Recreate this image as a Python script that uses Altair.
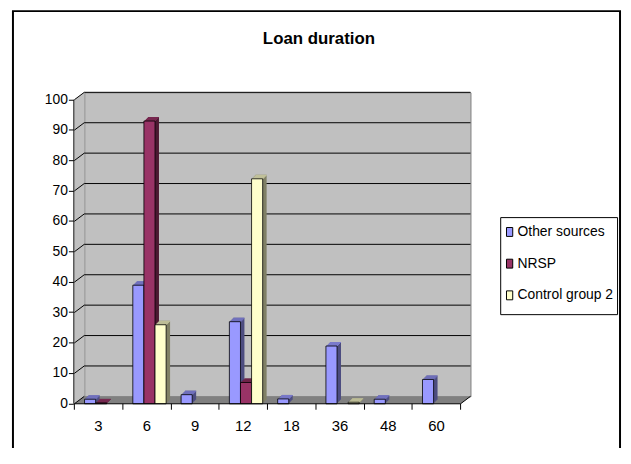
import altair as alt
import pandas as pd

# ---------------- data ----------------
durations = ["3", "6", "9", "12", "18", "36", "48", "60"]
series = ["Other sources", "NRSP", "Control group 2"]
other_sources = [1.5, 39, 3, 27, 1.6, 19, 1.5, 8]
nrsp = [0.3, 93, None, 7, None, None, None, None]
control_group_2 = [None, 26, None, 74, None, 0.5, None, None]
y_ticks = [0, 10, 20, 30, 40, 50, 60, 70, 80, 90, 100]
grid_values = [10, 20, 30, 40, 50, 60, 70, 80, 90, 100]
chart_title = "Loan duration"

front_colors = ["#9999FF", "#993366", "#FFFFCC"]
top_colors = ["#7A7ACC", "#7A2952", "#CCCCA3"]
side_colors = ["#4D4D80", "#4D1A33", "#808066"]

rows = []
for name, vals in zip(series, [other_sources, nrsp, control_group_2]):
    for d, v in zip(durations, vals):
        if v is not None:
            rows.append({"Duration": d, "Series": name, "Value": v})
df = pd.DataFrame(rows)
grid_df = pd.DataFrame({"v": grid_values})
side_df = pd.DataFrame({"v": y_ticks})
one = pd.DataFrame({"a": [0]})

# ---------------- geometry / style ----------------
W, H = 390, 307          # back wall (plot area)
DX, DY = 10, 7.5         # 3-D shift of the front plane
DEPTH = 4                # bar depth in px
FONT = "Liberation Sans"

yscale = alt.Scale(domain=[0, 100], range=[H + DY, DY], nice=False, zero=True)
y_axis = alt.Axis(values=y_ticks, offset=DX + 0.5, translate=0, grid=False,
                  domainColor="black", tickColor="black", tickSize=5,
                  labelFontSize=14, labelFont=FONT, labelColor="black",
                  labelPadding=1, title=None, zindex=1)
x_axis = alt.Axis(offset=DY, translate=0, tickBand="extent", labelAngle=0,
                  grid=False, domainColor="black", tickColor="black", tickSize=6,
                  labelFontSize=15, labelFont=FONT, labelColor="black",
                  labelPadding=9.5, title=None, zindex=1)


def xenc(k, axis=None):
    return alt.X("Duration:N", sort=durations,
                 scale=alt.Scale(domain=durations, range=[-DX + k, W - DX + k],
                                 paddingInner=0, paddingOuter=0),
                 axis=axis)


xoff = alt.XOffset("Series:N", sort=series,
                   scale=alt.Scale(domain=series, paddingInner=0,
                                   paddingOuter=0.675, align=0.68))


def poly_path(corners, cx, cy, half):
    pts = [f"{(x - cx) / half:.5f},{(y - cy) / half:.5f}" for x, y in corners]
    return "M" + "L".join(pts) + "Z"


def polygon(corners, color):
    xs = [c[0] for c in corners]
    ys = [c[1] for c in corners]
    cx = (min(xs) + max(xs)) / 2
    cy = (min(ys) + max(ys)) / 2
    half = max(max(xs) - min(xs), max(ys) - min(ys)) / 2 + 1
    return alt.Chart(one).mark_point(
        shape=poly_path(corners, cx, cy, half), size=(2 * half) ** 2,
        filled=True, fill=color, opacity=1, strokeWidth=0
    ).encode(x=alt.value(cx), y=alt.value(cy))


border = alt.Chart(one).mark_rect(fillOpacity=0, stroke="black", strokeWidth=2).encode(
    x=alt.value(-72), x2=alt.value(541), y=alt.value(-82), y2=alt.value(365))
legend_box = alt.Chart(one).mark_rect(fill="white", stroke="black", strokeWidth=1).encode(
    x=alt.value(420.5), x2=alt.value(538.5), y=alt.value(126.5), y2=alt.value(224.5))
title_text = alt.Chart(one).mark_text(
    font=FONT, fontSize=17, fontWeight="bold", color="black",
    align="center", baseline="alphabetic"
).encode(x=alt.value(237), y=alt.value(-49.3), text=alt.value(chart_title))

left_wall = polygon([(-DX, DY), (0, 0), (0, H), (-DX, H + DY)], "#C0C0C0")
floor = polygon([(-DX, H + DY), (W - DX, H + DY), (W, H), (0, H)], "#808080")

back_grid = alt.Chart(grid_df).mark_rule(color="black", strokeWidth=1, yOffset=-DY).encode(
    y=alt.Y("v:Q", scale=yscale, axis=y_axis))
side_grid = alt.Chart(side_df).mark_rule(color="black", strokeWidth=1, y2Offset=-DY).encode(
    x=alt.value(-DX), x2=alt.value(0),
    y=alt.Y("v:Q", scale=yscale, axis=y_axis), y2=alt.Y2("v"))
floor_edge = alt.Chart(one).mark_rule(color="black", strokeWidth=1).encode(
    x=alt.value(W - DX), x2=alt.value(W), y=alt.value(H + DY), y2=alt.value(H))

layers = [border, legend_box, title_text, left_wall, floor, back_grid, side_grid, floor_edge]

for k in range(DEPTH, 0, -1):
    layers.append(
        alt.Chart(df).mark_bar(yOffset=-k, y2Offset=-k).encode(
            x=xenc(k), xOffset=xoff,
            y=alt.Y("Value:Q", scale=yscale, axis=y_axis),
            color=alt.Color("Series:N", sort=series,
                            scale=alt.Scale(domain=series, range=side_colors),
                            legend=None)))

for k in range(1, DEPTH + 1):
    layers.append(
        alt.Chart(df).mark_bar(yOffset=-k, y2Offset=-k + 1).encode(
            x=xenc(k), xOffset=xoff,
            y=alt.Y("Value:Q", scale=yscale, axis=y_axis), y2=alt.Y2("Value"),
            color=alt.Color("Series:N", sort=series,
                            scale=alt.Scale(domain=series, range=top_colors),
                            legend=None)))

legend = alt.Legend(orient="none", legendX=422.5, legendY=134, title=None,
                    symbolType="M-0.7,-1L0.7,-1L0.7,1L-0.7,1Z", symbolSize=81,
                    symbolStrokeColor="black", symbolStrokeWidth=1, symbolOpacity=1,
                    labelFontSize=14, labelFont=FONT, labelColor="black",
                    rowPadding=18, labelOffset=1, padding=0, labelLimit=300)

front = alt.Chart(df).mark_bar(stroke="black", strokeWidth=0.8).encode(
    x=xenc(0, x_axis), xOffset=xoff,
    y=alt.Y("Value:Q", scale=yscale, axis=y_axis),
    color=alt.Color("Series:N", sort=series,
                    scale=alt.Scale(domain=series, range=front_colors),
                    legend=legend))
layers.append(front)

chart = alt.layer(*layers).resolve_scale(
    x="independent", xOffset="independent", color="independent"
).properties(
    width=W, height=H,
    autosize="none",
    padding={"left": 77, "top": 83, "right": 154, "bottom": 50},
).configure(font=FONT).configure_view(fill="#C0C0C0", stroke="#808080")

chart.save("out.html", embed_options={"renderer": "svg", "actions": False})
